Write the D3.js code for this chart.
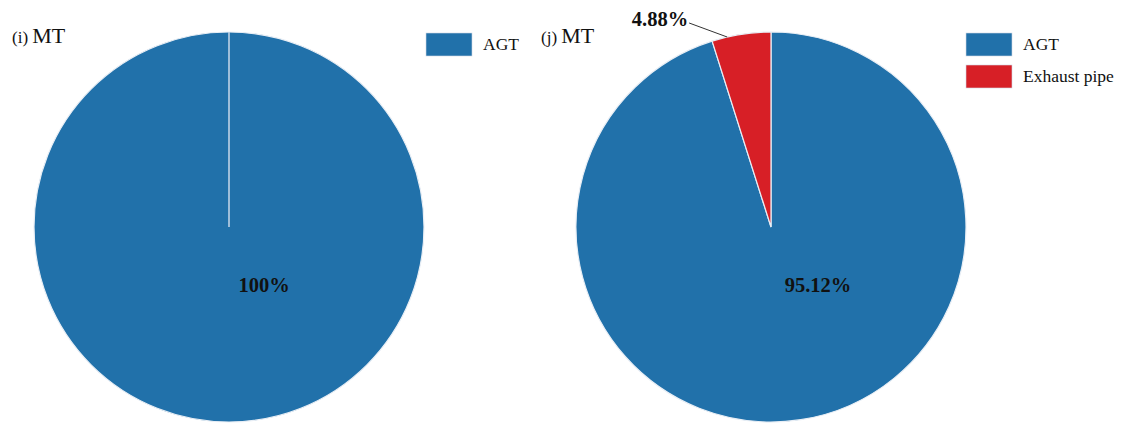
<!DOCTYPE html>
<html><head><meta charset="utf-8">
<script src="https://cdn.jsdelivr.net/npm/d3@7"></script>
<style>body{margin:0;background:#fff;} svg{display:block;font-family:"Liberation Serif","Times New Roman",serif;}</style>
</head><body>
<svg id="c" width="1127" height="423"></svg>
<script>
const panelTitles = ["(i)", "(j)"];
const categoriesI = ["AGT"];
const valuesI = [100];
const categoriesJ = ["AGT", "Exhaust pipe"];
const valuesJ = [95.12, 4.88];
const colors = {"AGT": "#2171aa", "Exhaust pipe": "#d71f26"};

const svg = d3.select("#c");
const R = 195;

function drawPie(cx, cy, cats, vals, title, titleX, legendX) {
  const g = svg.append("g").attr("transform", `translate(${cx},${cy})`);
  const data = cats.map((c, i) => ({cat: c, value: vals[i]}));
  const total = d3.sum(vals);
  const pie = d3.pie().value(d => d.value).sort(null)
    .startAngle(0).endAngle(2 * Math.PI);
  const arcs = pie(data);
  const arc = d3.arc().innerRadius(0).outerRadius(R);
  g.selectAll("path").data(arcs).join("path")
    .attr("d", arc)
    .attr("fill", d => colors[d.data.cat])
    .attr("stroke", "#e8eef5")
    .attr("stroke-width", 1.2);
  if (arcs.length === 1) {
    // slice boundary at the start angle
    g.append("line").attr("x1", 0).attr("y1", 0).attr("x2", 0).attr("y2", -R)
      .attr("stroke", "#c9d8e8").attr("stroke-width", 1.5);
  }

  arcs.forEach((a, i) => {
    const pct = a.data.value / total * 100;
    const txt = (pct === 100 ? "100" : pct.toFixed(2)) + "%";
    if (pct > 50) {
      g.append("text").attr("x", cats.length === 1 ? 35 : 47).attr("y", 65)
        .attr("text-anchor", "middle").attr("font-weight", "bold")
        .attr("font-size", 20.5).attr("fill", "#111").text(txt);
    } else {
      const ang = a.startAngle + 0.26 * (a.endAngle - a.startAngle);
      const p1 = [Math.sin(ang) * R, -Math.cos(ang) * R];
      const p2 = [p1[0] - 38, p1[1] - 14];
      g.append("line").attr("x1", p1[0]).attr("y1", p1[1]).attr("x2", p2[0]).attr("y2", p2[1])
        .attr("stroke", "#333").attr("stroke-width", 1);
      g.append("text").attr("x", p2[0] - 1).attr("y", p2[1] + 3)
        .attr("text-anchor", "end").attr("font-weight", "bold")
        .attr("font-size", 20.5).attr("fill", "#111").text(txt);
    }
  });

  const t = svg.append("text").attr("x", titleX).attr("y", 43).attr("fill", "#111");
  t.append("tspan").attr("font-size", 17).text(title + " ");
  t.append("tspan").attr("font-size", 22).text("MT");

  const lg = svg.append("g").attr("transform", `translate(${legendX},33)`);
  cats.forEach((c, i) => {
    lg.append("rect").attr("x", 0).attr("y", i * 32).attr("width", 46).attr("height", 23)
      .attr("fill", colors[c]).attr("stroke", "#cfd8e3").attr("stroke-width", 0.6);
    lg.append("text").attr("x", 57).attr("y", i * 32 + 16.5).attr("font-size", 17.5)
      .attr("fill", "#111").text(c);
  });
}

drawPie(229, 227, categoriesI, valuesI, panelTitles[0], 12, 426);
drawPie(771, 227, categoriesJ, valuesJ, panelTitles[1], 541, 966);
</script>
</body></html>
